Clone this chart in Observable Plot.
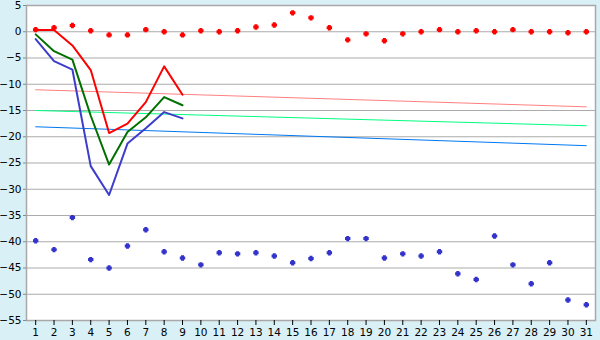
<!DOCTYPE html>
<html><head>
<meta charset="utf-8">
<script src="https://cdn.jsdelivr.net/npm/d3@7"></script>
<script src="https://cdn.jsdelivr.net/npm/@observablehq/plot@0.6"></script>
<style>
html,body{margin:0;padding:0;background:#D9F0F6;}
svg{display:block;}
</style>
</head><body><div id="chart"></div>
<script>
const days = [1,2,3,4,5,6,7,8,9,10,11,12,13,14,15,16,17,18,19,20,21,22,23,24,25,26,27,28,29,30,31];
const yTicks = [5,0,-5,-10,-15,-20,-25,-30,-35,-40,-45,-50,-55];

// daily marker series
const redDots = [0.4,0.75,1.2,0.2,-0.6,-0.6,0.4,0,-0.6,0.2,0,0.2,0.9,1.3,3.6,2.65,0.75,-1.55,-0.4,-1.7,-0.4,0,0.4,0,0.2,0,0.4,0,0,-0.2,0];
const blueDots = [-39.8,-41.5,-35.4,-43.4,-45.0,-40.8,-37.7,-41.9,-43.1,-44.4,-42.1,-42.3,-42.1,-42.7,-44.0,-43.2,-42.1,-39.4,-39.4,-43.1,-42.3,-42.7,-41.9,-46.1,-47.2,-38.9,-44.4,-48.0,-44.0,-51.1,-52.0];

// lines for days 1..9
const lineDays = [1,2,3,4,5,6,7,8,9];
const redLine = [0.35,0.35,-2.6,-7.3,-19.3,-17.5,-13.4,-6.6,-12.0];
const greenLine = [-0.5,-3.7,-5.3,-16.0,-25.3,-19.1,-16.3,-12.45,-14.0];
const blueLine = [-1.4,-5.6,-7.2,-25.6,-31.1,-21.3,-18.4,-15.3,-16.5];

// straight trend lines (first and last day)
const trendDays = [1,31];
const pinkTrend = [-11.05,-14.3];
const lightGreenTrend = [-15.0,-17.9];
const lightBlueTrend = [-18.1,-21.7];

const toRows = (xs, ys) => xs.map((d,i) => ({day:d, v:ys[i]}));

// thick plus marker
const fatPlus = {
  draw(ctx, size) {
    const w = Math.sqrt(size / Math.PI);
    const h = w * 0.55;
    ctx.moveTo(-h, -w); ctx.lineTo(h, -w); ctx.lineTo(h, -h); ctx.lineTo(w, -h);
    ctx.lineTo(w, h); ctx.lineTo(h, h); ctx.lineTo(h, w); ctx.lineTo(-h, w);
    ctx.lineTo(-h, h); ctx.lineTo(-w, h); ctx.lineTo(-w, -h); ctx.lineTo(-h, -h);
    ctx.closePath();
  }
};

const chart = Plot.plot({
  width: 600,
  height: 340,
  marginLeft: 26,
  marginRight: 5,
  marginTop: 5,
  marginBottom: 20,
  style: {background: "#D9F0F6", fontFamily: "DejaVu Sans", fontSize: "10px", color: "#000"},
  x: {type: "point", domain: days, padding: 0.5, round: false, label: null},
  y: {domain: [-55, 5], label: null},
  marks: [
    Plot.frame({fill: "white", stroke: null}),
    Plot.gridY(yTicks, {stroke: "#ABABAB", strokeOpacity: 1, strokeWidth: 1.2}),
    Plot.frame({stroke: "#A8A8A8", strokeWidth: 1.5}),
    Plot.axisY(yTicks, {tickSize: 3, tickPadding: 2, stroke: "#888", fill: "#000", fontSize: 10.5}),
    Plot.axisX({tickSize: 5, tickPadding: 3, stroke: "#000", fill: "#000", fontSize: 10.5}),
    Plot.line(toRows(trendDays, pinkTrend), {x: "day", y: "v", stroke: "#FF8080", strokeWidth: 1}),
    Plot.line(toRows(trendDays, lightGreenTrend), {x: "day", y: "v", stroke: "#00FF80", strokeWidth: 1}),
    Plot.line(toRows(trendDays, lightBlueTrend), {x: "day", y: "v", stroke: "#0078F0", strokeWidth: 1}),
    Plot.line(toRows(lineDays, blueLine), {x: "day", y: "v", stroke: "#3D3DCC", strokeWidth: 2}),
    Plot.line(toRows(lineDays, greenLine), {x: "day", y: "v", stroke: "#007000", strokeWidth: 2}),
    Plot.line(toRows(lineDays, redLine), {x: "day", y: "v", stroke: "#FF0000", strokeWidth: 2}),
    Plot.dot(toRows(days, redDots), {x: "day", y: "v", symbol: fatPlus, r: 2.7, fill: "#FF0000", stroke: null}),
    Plot.dot(toRows(days, blueDots), {x: "day", y: "v", symbol: fatPlus, r: 2.7, fill: "#3333CC", stroke: null})
  ]
});
document.getElementById("chart").appendChild(chart);
</script>
</body></html>
